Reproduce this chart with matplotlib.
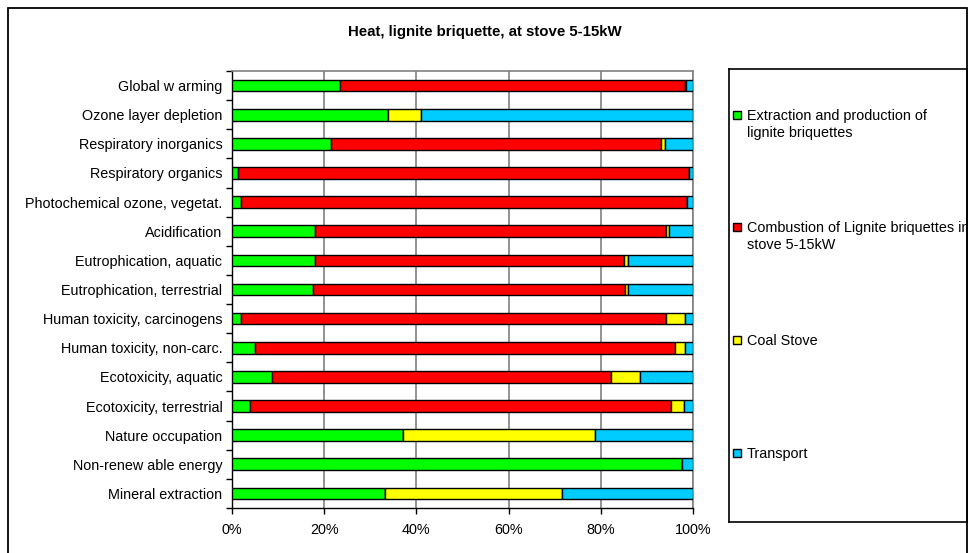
import numpy as np
import matplotlib
matplotlib.use('Agg')
import matplotlib.pyplot as plt
from matplotlib.patches import Rectangle

plt.rcParams['font.family'] = ['Liberation Sans', 'DejaVu Sans']

# Data (shares in %)
categories = ['Global w arming', 'Ozone layer depletion', 'Respiratory inorganics',
              'Respiratory organics', 'Photochemical ozone, vegetat.', 'Acidification',
              'Eutrophication, aquatic', 'Eutrophication, terrestrial',
              'Human toxicity, carcinogens', 'Human toxicity, non-carc.',
              'Ecotoxicity, aquatic', 'Ecotoxicity, terrestrial', 'Nature occupation',
              'Non-renew able energy', 'Mineral extraction']
extraction = [23.5, 33.9, 21.4, 1.4, 2.0, 17.9, 17.9, 17.6, 2.0, 4.9, 8.7, 4.0, 37.1, 97.7, 33.1]
combustion = [74.8, 0.0, 71.6, 97.7, 96.6, 76.3, 67.1, 67.6, 92.2, 91.3, 73.6, 91.3, 0.0, 0.0, 0.0]
coal_stove = [0.2, 7.0, 0.9, 0.0, 0.0, 0.5, 0.8, 0.8, 4.1, 2.1, 6.1, 2.7, 41.7, 0.0, 38.5]
transport = [1.5, 59.1, 6.1, 0.9, 1.4, 5.3, 14.2, 14.0, 1.7, 1.7, 11.6, 2.0, 21.2, 2.3, 28.4]

series_names = ['Extraction and production of\nlignite briquettes',
                'Combustion of Lignite briquettes in\nstove 5-15kW',
                'Coal Stove', 'Transport']
colors = ['#00FF00', '#FF0000', '#FFFF00', '#00CCFF']
title = 'Heat, lignite briquette, at stove 5-15kW'

W, H = 969, 553
fig = plt.figure(figsize=(W / 100, H / 100), dpi=100)

# outer chart frame
fig.patches.append(Rectangle((8 / W, -0.02), 959 / W, (545 / H) + 0.02,
                             transform=fig.transFigure, fill=False,
                             edgecolor='black', lw=1.3))

fig.text(0.5, 1 - 32 / H, title, ha='center', va='center',
         fontsize=10.8, fontweight='bold')

ax = fig.add_axes([232 / W, 1 - 508 / H, 461 / W, 437 / H])
y = np.arange(len(categories))
left = np.zeros(len(categories))
for vals, col in zip([extraction, combustion, coal_stove, transport], colors):
    ax.barh(y, vals, left=left, height=0.4, color=col, edgecolor='black',
            linewidth=1, zorder=3)
    left = left + np.array(vals)

ax.set_xlim(0, 100)
ax.set_ylim(len(categories) - 0.5, -0.5)
ax.set_xticks([0, 20, 40, 60, 80, 100])
ax.set_xticklabels(['0%', '20%', '40%', '60%', '80%', '100%'], fontsize=10.4)
ax.tick_params(axis='x', length=4, width=1, pad=7)
ax.xaxis.grid(True, color='#808080', lw=1.2, zorder=0)

ax.set_yticks(np.arange(len(categories) + 1) - 0.5)
ax.set_yticklabels([])
ax.set_yticks(y, minor=True)
ax.set_yticklabels(categories, minor=True, fontsize=10.4)
ax.tick_params(axis='y', which='major', length=4, width=1)
ax.tick_params(axis='y', which='minor', length=0, pad=7)

for s in ['top', 'right']:
    ax.spines[s].set_color('#808080')
    ax.spines[s].set_linewidth(1.2)
for s in ['left', 'bottom']:
    ax.spines[s].set_linewidth(1)

# legend box
lax = fig.add_axes([729 / W, 1 - 522 / H, 238 / W, 453 / H])
lax.set_xlim(0, 238)
lax.set_ylim(522, 69)
lax.set_xticks([])
lax.set_yticks([])
for s in lax.spines.values():
    s.set_linewidth(1.2)
entry_y = [115, 227, 340, 453]
for name, col, ey in zip(series_names, colors, entry_y):
    lax.add_patch(Rectangle((4, ey - 4), 8, 8, facecolor=col, edgecolor='black', lw=1))
    lax.text(18, ey - 6, name, ha='left', va='top', fontsize=10.4,
             linespacing=1.25, clip_on=True)

fig.savefig('out.png', dpi=100)
